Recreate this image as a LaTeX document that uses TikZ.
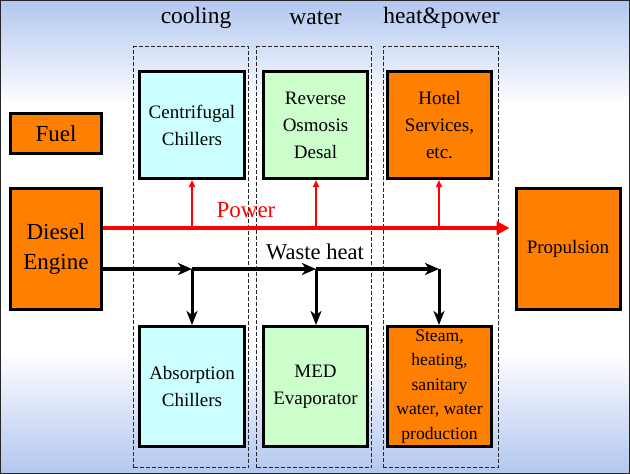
\documentclass[tikz,border=0pt]{standalone}
\usepackage{fontspec}
\setmainfont{Liberation Serif}
\usetikzlibrary{arrows.meta}

\definecolor{unitorange}{RGB}{255,128,0}
\definecolor{unitcyan}{RGB}{204,255,255}
\definecolor{unitgreen}{RGB}{204,255,204}
\definecolor{skyback}{RGB}{178,198,240}
\definecolor{powerred}{RGB}{255,0,0}

\tikzset{
  unit/.style={draw=black,line width=3pt,align=center,inner sep=2pt,
    font=\fontsize{19}{27}\selectfont},
  column/.style={draw=black!85,dash pattern=on 4pt off 2pt,line width=0.9pt,
    minimum width=115,minimum height=421},
  header/.style={font=\fontsize{23.5}{26}\selectfont},
  powerline/.style={draw=powerred,line width=4pt,
    -{Triangle[length=13pt,width=13pt]}},
  powerarrow/.style={draw=powerred,line width=1.8pt,
    -{Triangle[length=7pt,width=6pt]}},
  heatline/.style={draw=black,line width=3.5pt,
    -{Stealth[length=14pt,width=12pt,inset=4pt]}},
  heatarrow/.style={draw=black,line width=3pt,
    -{Stealth[length=14pt,width=11pt,inset=4pt]}}
}

\begin{document}
\begin{tikzpicture}[x=1pt,y=-1pt]

% background
\useasboundingbox (0,0) rectangle (630,474);
\fill[white] (0,0) rectangle (630,474);
\shade[top color=skyback,bottom color=white] (0,0) rectangle (630,105);
\shade[top color=white,bottom color=skyback] (0,350) rectangle (630,474);
\draw[line width=2.5pt,black!85] (0,0) rectangle (630,474);

% columns
\node[column] (col1) at (191,257) {};
\node[column] (col2) at (314,257) {};
\node[column] (col3) at (440.5,257) {};

\node[header] (hcool) at (196,18) {cooling};
\node[header] (hwater) at (315.5,18) {water};
\node[header] (hheat) at (441.5,18) {heat\&power};

% units
\node[unit,fill=unitorange,minimum width=91,minimum height=40,
  font=\fontsize{23}{27}\selectfont] (fuel) at (56,133.5) {Fuel};
\node[unit,fill=unitorange,minimum width=91,minimum height=121,
  font=\fontsize{23}{30}\selectfont] (diesel) at (56,249) {Diesel\\Engine};
\node[unit,fill=unitorange,minimum width=104,minimum height=121] (prop) at (568,249) {Propulsion};

\node[unit,fill=unitcyan,minimum width=105,minimum height=107] (centr) at (192,125) {Centrifugal\\Chillers};
\node[unit,fill=unitgreen,minimum width=104,minimum height=107] (ro) at (315.5,125) {Reverse\\Osmosis\\Desal};
\node[unit,fill=unitorange,minimum width=104,minimum height=107] (hotel) at (439.5,125) {Hotel\\Services,\\etc.};

\node[unit,fill=unitcyan,minimum width=105,minimum height=120] (absorb) at (192,386.5) {Absorption\\Chillers};
\node[unit,fill=unitgreen,minimum width=104,minimum height=120] (med) at (315.5,386.5) {MED\\Evaporator};
\node[unit,fill=unitorange,minimum width=104,minimum height=120,
  font=\fontsize{17.6}{24.5}\selectfont] (steam) at (439.5,386.5) {Steam,\\heating,\\sanitary\\water, water\\production};

% power
\coordinate (pw1) at (192,228);
\coordinate (pw2) at (316,228);
\coordinate (pw3) at (439,228);
\draw[powerline,shorten >=5pt] (diesel.east |- pw1) -- (prop.west |- pw1);
\draw[powerarrow] (pw1) -- (centr.south);
\draw[powerarrow] (pw2) -- (ro.south -| pw2);
\draw[powerarrow] (pw3) -- (hotel.south -| pw3);
\node[text=powerred,font=\fontsize{23}{26}\selectfont] (lpower) at (246,210) {Power};

% waste heat
\coordinate (wh1) at (192,269);
\coordinate (wh2) at (316,269);
\coordinate (wh3) at (439,269);
\draw[heatline] (diesel.east |- wh1) -- (wh1);
\draw[heatline] (wh1) -- (wh2);
\draw[heatline] (wh2) -- (wh3);
\draw[heatarrow] (wh1) -- (absorb.north);
\draw[heatarrow] (wh2) -- (med.north -| wh2);
\draw[heatarrow] (wh3) -- (steam.north -| wh3);
\node[font=\fontsize{22.5}{26}\selectfont] (lheat) at (315,252) {Waste heat};

\end{tikzpicture}
\end{document}
